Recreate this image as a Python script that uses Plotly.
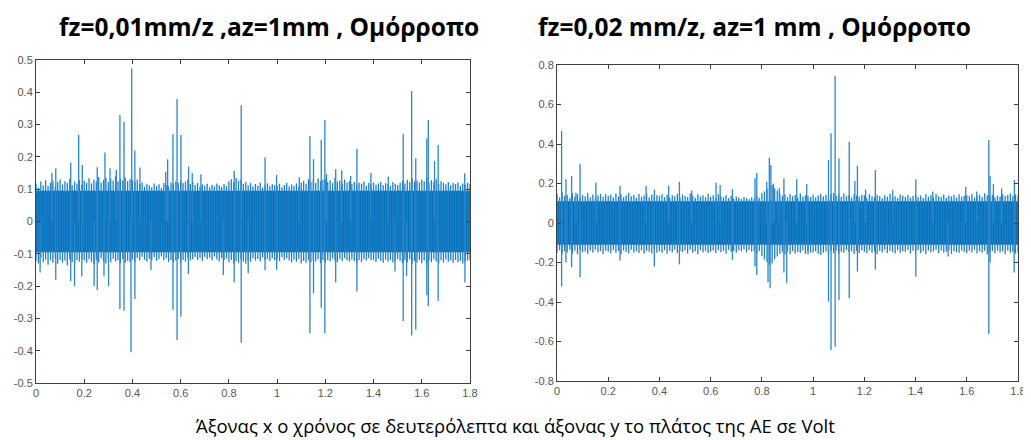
import plotly.graph_objects as go

# ---------------- data ----------------
# time grid of envelope samples (s)
t_env = [round(0.01 * i, 2) for i in range(181)]

# left panel: fz=0,01 mm/z -- dense band envelope (mV), upper and |lower|
L_core_mV = 95
L_top_mV = [118,105,124,112,128,110,120,126,108,122,130,115,125,119,132,112,124,118,128,114,
            126,120,134,118,130,124,138,121,129,135,122,131,127,140,124,133,128,136,125,131,
            128,122,130,116,121,108,117,112,106,118,110,115,104,119,113,109,121,117,125,120,
            127,119,124,130,116,122,113,119,108,115,111,117,106,114,109,118,112,107,116,110,
            124,131,121,135,126,129,117,122,112,119,108,116,111,120,105,114,118,109,115,112,
            110,117,106,113,119,108,115,111,118,107,121,126,117,131,123,128,119,133,125,129,
            131,122,128,119,135,124,127,118,130,121,125,116,122,113,120,117,124,111,119,115,
            121,114,118,123,112,119,116,110,122,117,113,120,126,118,129,122,133,124,127,121,
            130,124,136,119,128,122,131,117,125,120,115,122,112,119,116,121,110,118,114,120,
            117]
L_bot_mV = [122,130,112,126,118,134,120,128,115,131,119,127,121,136,117,125,129,119,124,116,
            121,128,117,125,132,119,127,114,123,130,118,126,115,124,120,129,117,127,122,125,
            118,126,113,121,109,119,124,115,120,111,122,117,108,120,114,125,119,127,121,116,
            128,119,124,113,121,117,110,119,114,122,109,117,112,120,108,118,124,113,119,115,
            126,119,131,122,128,117,124,130,119,125,114,121,116,124,111,119,116,122,113,120,
            117,123,111,119,114,121,127,118,125,116,130,122,128,119,126,121,124,117,129,120,
            127,119,124,115,121,126,117,123,113,120,124,118,122,127,119,125,117,121,114,120,
            119,125,116,122,128,118,124,119,127,121,116,123,129,120,126,118,131,122,127,119,
            129,121,134,120,126,117,124,129,120,127,118,124,121,128,119,125,122,130,124,121,
            120]
# isolated bursts (s, V)
L_pos_t = [0.066,0.082,0.144,0.177,0.192,0.254,0.286,0.307,0.333,0.348,0.365,0.397,0.41,0.431,
           0.538,0.546,0.568,0.585,0.601,0.633,0.648,0.684,0.822,0.851,0.95,0.998,1.092,1.136,
           1.151,1.183,1.198,1.205,1.243,1.268,1.305,1.331,1.389,1.461,1.523,1.558,1.575,1.621,
           1.627,1.653,1.668,1.778]
L_pos_v = [0.15,0.165,0.182,0.268,0.175,0.168,0.214,0.165,0.16,0.33,0.309,0.474,0.22,0.167,
           0.154,0.193,0.27,0.379,0.268,0.17,0.15,0.146,0.157,0.36,0.199,0.144,0.137,0.265,
           0.193,0.252,0.314,0.147,0.162,0.159,0.141,0.225,0.151,0.139,0.271,0.404,0.196,0.257,
           0.314,0.187,0.237,0.149]
L_neg_t = [0.017,0.082,0.144,0.16,0.19,0.241,0.254,0.282,0.301,0.348,0.365,0.394,0.41,0.477,
           0.568,0.585,0.601,0.632,0.777,0.822,0.851,0.88,0.95,0.998,1.136,1.151,1.183,1.198,
           1.243,1.331,1.489,1.523,1.537,1.558,1.575,1.621,1.627,1.668,1.779]
L_neg_v = [-0.158,-0.18,-0.184,-0.2,-0.17,-0.2,-0.212,-0.17,-0.2,-0.271,-0.276,-0.405,-0.24,-0.15,
           -0.274,-0.367,-0.295,-0.163,-0.166,-0.189,-0.375,-0.16,-0.15,-0.15,-0.346,-0.222,-0.267,-0.346,
           -0.188,-0.217,-0.155,-0.308,-0.169,-0.353,-0.334,-0.228,-0.262,-0.246,-0.189]

# right panel: fz=0,02 mm/z
R_core_mV = 110
R_top_mV = [148,130,156,138,142,127,150,133,146,129,141,135,152,131,144,128,139,147,132,145,
            137,143,129,150,134,146,131,140,153,136,142,128,147,133,139,149,130,144,136,141,
            138,146,131,143,127,140,135,148,129,144,137,132,150,139,128,145,134,141,130,147,
            133,140,128,145,136,131,142,126,137,123,134,129,121,132,126,120,130,124,135,128,
            152,160,171,183,192,176,165,149,138,145,131,147,136,142,129,150,134,140,137,132,
            144,131,139,148,135,142,129,146,152,138,144,133,149,136,141,130,145,139,134,143,
            140,128,146,135,131,143,137,125,141,133,148,130,136,127,144,138,132,142,129,137,
            143,131,139,126,145,134,140,129,148,136,132,144,127,139,135,142,130,146,133,138,
            141,135,147,129,138,144,132,151,140,136,143,131,139,134,146,137,142,149,138,144,
            140]
R_bot_mV = [152,138,160,143,149,135,155,141,158,137,147,144,156,139,151,136,148,142,157,140,
            146,153,137,150,142,158,139,147,155,136,149,143,152,138,156,141,146,154,137,150,
            144,151,138,156,140,148,135,153,142,147,139,155,136,150,143,158,137,149,141,152,
            145,139,152,137,148,141,156,136,146,140,150,138,143,134,149,137,145,140,153,142,
            168,185,196,212,205,183,170,156,148,160,145,158,142,154,147,151,139,156,144,150,
            149,143,156,162,150,144,158,141,153,139,155,146,151,137,148,144,157,140,152,138,
            147,153,139,150,144,158,142,149,136,152,140,147,155,138,151,143,146,137,154,141,
            149,137,152,143,157,139,148,144,136,153,141,150,145,138,156,142,147,151,139,146,
            153,141,149,136,155,144,150,140,158,146,142,153,139,149,144,157,141,151,147,155,
            150]
R_pos_t = [0.018,0.035,0.057,0.074,0.09,0.152,0.246,0.348,0.38,0.436,0.478,0.526,0.621,0.637,
           0.685,0.773,0.78,0.819,0.829,0.835,0.845,0.868,0.886,0.936,0.975,1.06,1.07,1.086,
           1.101,1.141,1.163,1.173,1.205,1.243,1.311,1.401,1.467,1.596,1.639,1.686,1.691,1.704,
           1.736,1.786]
R_pos_v = [0.466,0.221,0.238,0.153,0.299,0.204,0.188,0.188,0.17,0.188,0.209,0.164,0.204,0.192,
           0.172,0.226,0.255,0.209,0.331,0.294,0.2,0.176,0.226,0.221,0.197,0.319,0.454,0.746,
           0.327,0.412,0.213,0.289,0.17,0.268,0.167,0.221,0.159,0.184,0.159,0.42,0.238,0.197,
           0.175,0.218]
R_neg_t = [0.018,0.035,0.057,0.09,0.246,0.38,0.478,0.685,0.773,0.78,0.824,0.832,0.886,0.897,
           0.98,1.06,1.07,1.086,1.101,1.141,1.173,1.243,1.401,1.527,1.686,1.691,1.785]
R_neg_v = [-0.322,-0.2,-0.224,-0.275,-0.19,-0.221,-0.209,-0.187,-0.22,-0.263,-0.3,-0.331,-0.25,-0.305,
           -0.16,-0.398,-0.643,-0.626,-0.39,-0.381,-0.246,-0.235,-0.272,-0.17,-0.562,-0.2,-0.25]

titles = ["fz=0,01mm/z ,az=1mm , Ομόρροπο", "fz=0,02 mm/z, az=1 mm , Ομόρροπο"]
caption = "Άξονας x ο χρόνος σε δευτερόλεπτα και άξονας y το πλάτος της AE σε Volt"
x_ticks = [0, 0.2, 0.4, 0.6, 0.8, 1, 1.2, 1.4, 1.6, 1.8]
x_ticktext = ["0", "0.2", "0.4", "0.6", "0.8", "1", "1.2", "1.4", "1.6", "1.8"]
L_yticks = [-0.5, -0.4, -0.3, -0.2, -0.1, 0, 0.1, 0.2, 0.3, 0.4, 0.5]
L_yticktext = ["-0.5", "-0.4", "-0.3", "-0.2", "-0.1", "0", "0.1", "0.2", "0.3", "0.4", "0.5"]
R_yticks = [-0.8, -0.6, -0.4, -0.2, 0, 0.2, 0.4, 0.6, 0.8]
R_yticktext = ["-0.8", "-0.6", "-0.4", "-0.2", "0", "0.2", "0.4", "0.6", "0.8"]

# ---------------- figure ----------------
BLUE = "#0072BD"
SPIKE = "#2b86cc"
FRINGE = "#1f7fc6"
AX = "#404040"
fig = go.Figure()

def add_panel(core_mV, top_mV, bot_mV, pt, pv, nt, nv, xa, ya):
    core = core_mV / 1000
    fig.add_trace(go.Scatter(
        x=[t_env[0], t_env[-1], t_env[-1], t_env[0], t_env[0]],
        y=[core, core, -core, -core, core], fill="toself",
        fillcolor=BLUE, line=dict(color=BLUE, width=0), mode="lines",
        xaxis=xa, yaxis=ya, hoverinfo="skip", showlegend=False))
    xs, ys = [], []
    for t, a, b in zip(t_env, top_mV, bot_mV):
        xs += [t, t, None]
        ys += [-b / 1000, a / 1000, None]
    fig.add_trace(go.Scatter(
        x=xs, y=ys, mode="lines", line=dict(color=FRINGE, width=1.3),
        xaxis=xa, yaxis=ya, hoverinfo="skip", showlegend=False))
    xs, ys = [], []
    for t, v in list(zip(pt, pv)) + list(zip(nt, nv)):
        xs += [t, t, None]
        ys += [0, v, None]
    fig.add_trace(go.Scatter(
        x=xs, y=ys, mode="lines", line=dict(color=SPIKE, width=1.3),
        xaxis=xa, yaxis=ya, hoverinfo="skip", showlegend=False))

add_panel(L_core_mV, L_top_mV, L_bot_mV, L_pos_t, L_pos_v, L_neg_t, L_neg_v, "x", "y")
add_panel(R_core_mV, R_top_mV, R_bot_mV, R_pos_t, R_pos_v, R_neg_t, R_neg_v, "x2", "y2")

# the page body adds an 8 px offset; the figure is sized to fill the rest of the window
OFF = 8
W, H = 1031 - OFF, 440 - OFF
def px(x):
    return (x - OFF) / W
def py(y):
    return 1 - (y - OFF) / H

ax_common = dict(showline=True, mirror="ticks", linecolor=AX, linewidth=1, automargin=False,
                 ticks="inside", ticklen=4, tickcolor=AX, showgrid=False, zeroline=False,
                 tickfont=dict(family="Liberation Sans, Arial", size=11, color="#555555"))

fig.update_layout(
    width=W, height=H, margin=dict(l=0, r=0, t=0, b=0, autoexpand=False),
    paper_bgcolor="white", plot_bgcolor="white",
    xaxis=dict(domain=[px(36), px(470)], range=[0, 1.8], tickvals=x_ticks, ticktext=x_ticktext,
               anchor="y", **ax_common),
    yaxis=dict(domain=[py(383), py(60)], range=[-0.5, 0.5], tickvals=L_yticks,
               ticktext=L_yticktext, anchor="x", **ax_common),
    xaxis2=dict(domain=[px(557), px(1018)], range=[0, 1.8], tickvals=x_ticks, ticktext=x_ticktext,
                anchor="y2", **ax_common),
    yaxis2=dict(domain=[py(381), py(65)], range=[-0.8, 0.8], tickvals=R_yticks,
                ticktext=R_yticktext, anchor="x2", **ax_common),
)

fig.add_annotation(text="<b>" + titles[0] + "</b>", x=px(269), y=py(9), xref="paper", yref="paper",
                   showarrow=False, xanchor="center", yanchor="top", borderpad=0,
                   font=dict(family="Open Sans", size=24.5, color="black"))
fig.add_annotation(text="<b>" + titles[1] + "</b>", x=px(754), y=py(9), xref="paper", yref="paper",
                   showarrow=False, xanchor="center", yanchor="top", borderpad=0,
                   font=dict(family="Open Sans", size=24.5, color="black"))
fig.add_annotation(text=caption, x=px(515), y=py(439), xref="paper", yref="paper",
                   showarrow=False, xanchor="center", yanchor="bottom", borderpad=0,
                   font=dict(family="Open Sans", size=18.5, color="black"))

fig.write_html("out.html")
